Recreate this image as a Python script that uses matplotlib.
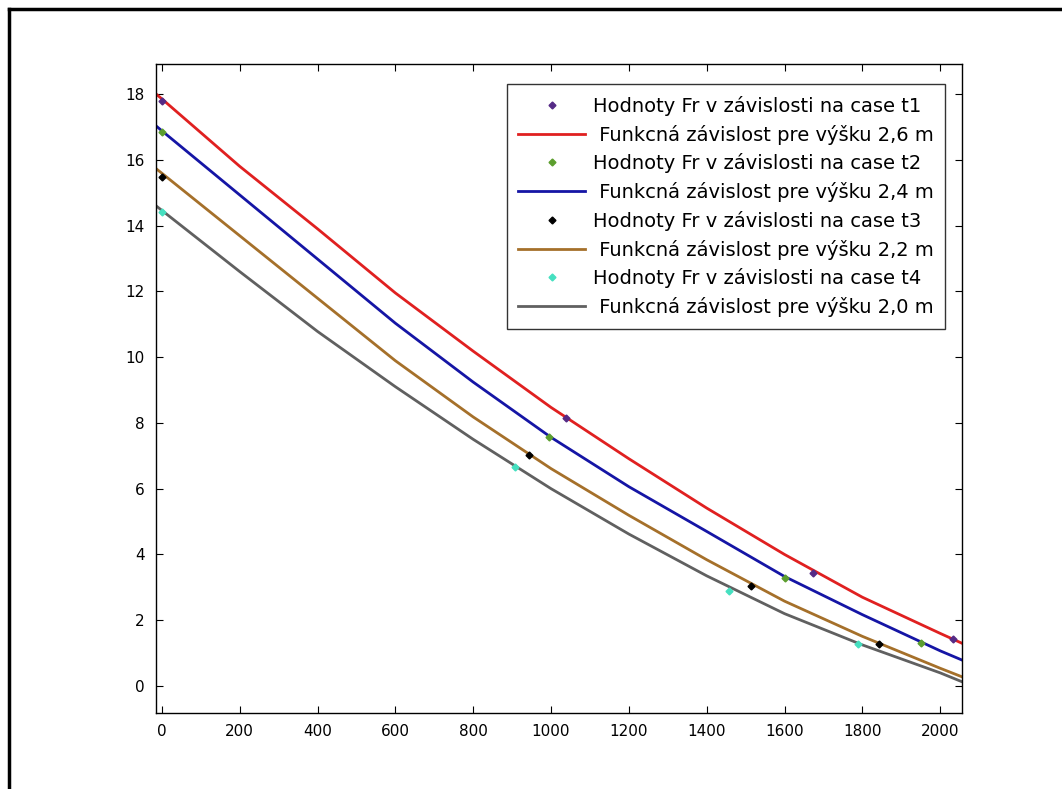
import numpy as np
import matplotlib.pyplot as plt
from matplotlib.lines import Line2D

curve_x = [-15, 0, 200, 400, 600, 800, 1000, 1200, 1400, 1600, 1800, 2000, 2056]
red_y   = [18.0, 17.85, 15.8, 13.9, 11.95, 10.18, 8.47, 6.91, 5.41, 4.0, 2.70, 1.60, 1.30]
blue_y  = [17.03, 16.88, 14.93, 12.98, 11.03, 9.24, 7.56, 6.06, 4.70, 3.33, 2.17, 1.07, 0.79]
brown_y = [15.73, 15.59, 13.69, 11.79, 9.89, 8.18, 6.61, 5.19, 3.84, 2.58, 1.51, 0.54, 0.28]
gray_y  = [14.6, 14.46, 12.6, 10.78, 9.1, 7.5, 6.0, 4.62, 3.35, 2.2, 1.25, 0.4, 0.13]

# measured points
t1_x = [0, 1038, 1673, 2034]
t1_y = [17.79, 8.16, 3.43, 1.43]
t2_x = [0, 996, 1600, 1950]
t2_y = [16.83, 7.56, 3.27, 1.32]
t3_x = [0, 944, 1514, 1842]
t3_y = [15.46, 7.01, 3.04, 1.28]
t4_x = [0, 907, 1458, 1790]
t4_y = [14.4, 6.65, 2.90, 1.28]

labels_pts = ['Hodnoty Fr v závislosti na case t1', 'Hodnoty Fr v závislosti na case t2',
              'Hodnoty Fr v závislosti na case t3', 'Hodnoty Fr v závislosti na case t4']
labels_fit = [' Funkcná závislost pre výšku 2,6 m', ' Funkcná závislost pre výšku 2,4 m',
              ' Funkcná závislost pre výšku 2,2 m', ' Funkcná závislost pre výšku 2,0 m']

plt.rcParams['font.family'] = ['DejaVu Sans']

fig = plt.figure(figsize=(10.62, 7.89), dpi=100)
ax = fig.add_axes([156/1062, 1 - 713/789, (962-156)/1062, (713-64)/789])

pt_colors = ['#552a86', '#5c9e2e', '#000000', '#45e0c0']
ln_colors = ['#e02020', '#1515a5', '#a5702a', '#606060']
pts = [(t1_x, t1_y), (t2_x, t2_y), (t3_x, t3_y), (t4_x, t4_y)]
curves = [red_y, blue_y, brown_y, gray_y]

for i in range(4):
    ax.plot(pts[i][0], pts[i][1], 'D', color=pt_colors[i], markersize=3.5,
            label=labels_pts[i], zorder=3)
    ax.plot(curve_x, curves[i], '-', color=ln_colors[i], lw=2, label=labels_fit[i])

ax.set_xlim(-15, 2056)
ax.set_ylim(-0.82, 18.91)
ax.set_xticks(range(0, 2001, 200))
ax.set_yticks(range(0, 19, 2))
ax.tick_params(direction='in', top=True, right=True, length=5, labelsize=11, pad=8)
for s in ax.spines.values():
    s.set_linewidth(1)

leg = ax.legend(loc='upper right', bbox_to_anchor=(0.979, 0.969), borderaxespad=0,
                fontsize=14, frameon=True, fancybox=False, edgecolor='black',
                borderpad=0.6, labelspacing=0.45, handlelength=3.45, handletextpad=0.37)
leg.get_frame().set_linewidth(1)

# window frame
fig.add_artist(Line2D([9/1062, 9/1062], [0, 1 - 9/789], color='black', lw=2.5))
fig.add_artist(Line2D([9/1062, 1], [1 - 9/789, 1 - 9/789], color='black', lw=2.5))

fig.savefig('out.png', dpi=100)
